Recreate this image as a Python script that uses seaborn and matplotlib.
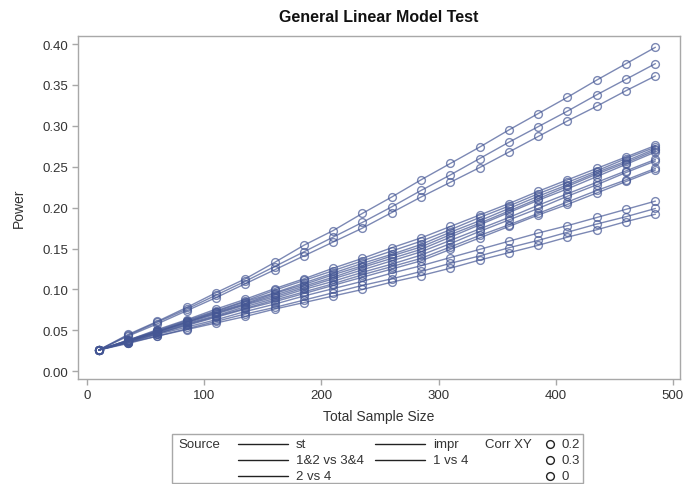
import matplotlib
matplotlib.use("Agg")
import numpy as np
import pandas as pd
import matplotlib.pyplot as plt
import seaborn as sns
from matplotlib.lines import Line2D
from matplotlib.patches import Rectangle
from matplotlib.ticker import FormatStrFormatter

# Total sample sizes evaluated
sample_size = [10, 35, 60, 85, 110, 135, 160, 185, 210, 235,
               260, 285, 310, 335, 360, 385, 410, 435, 460, 485]

# Power curves, one list per (source, correlation) combination
pw_1v4_02 = [0.026, 0.045, 0.061, 0.078, 0.096, 0.113, 0.133, 0.154, 0.172, 0.193,
             0.213, 0.234, 0.254, 0.274, 0.295, 0.315, 0.335, 0.356, 0.376, 0.396]
pw_1v4_03 = [0.026, 0.044, 0.060, 0.076, 0.093, 0.110, 0.128, 0.146, 0.164, 0.182,
             0.201, 0.221, 0.240, 0.260, 0.280, 0.299, 0.318, 0.338, 0.357, 0.376]
pw_1v4_00 = [0.026, 0.043, 0.058, 0.074, 0.090, 0.107, 0.124, 0.141, 0.158, 0.175,
             0.194, 0.213, 0.231, 0.249, 0.268, 0.287, 0.306, 0.324, 0.343, 0.361]

pw_st_02 = [0.026, 0.038, 0.051, 0.063, 0.076, 0.088, 0.101, 0.113, 0.126, 0.138,
            0.151, 0.163, 0.177, 0.191, 0.205, 0.220, 0.234, 0.248, 0.262, 0.276]
pw_st_03 = [0.026, 0.038, 0.050, 0.062, 0.074, 0.086, 0.099, 0.111, 0.123, 0.135,
            0.147, 0.159, 0.173, 0.188, 0.202, 0.217, 0.231, 0.245, 0.260, 0.274]
pw_st_00 = [0.026, 0.038, 0.049, 0.061, 0.073, 0.085, 0.096, 0.108, 0.120, 0.132,
            0.143, 0.155, 0.170, 0.184, 0.199, 0.214, 0.228, 0.243, 0.257, 0.272]

pw_12v34_02 = [0.026, 0.037, 0.049, 0.060, 0.072, 0.083, 0.095, 0.106, 0.118, 0.129,
               0.141, 0.152, 0.167, 0.181, 0.196, 0.211, 0.226, 0.241, 0.255, 0.270]
pw_12v34_03 = [0.026, 0.037, 0.048, 0.060, 0.071, 0.082, 0.093, 0.104, 0.115, 0.127,
               0.138, 0.149, 0.164, 0.179, 0.194, 0.209, 0.223, 0.238, 0.253, 0.268]
pw_12v34_00 = [0.026, 0.037, 0.048, 0.059, 0.070, 0.081, 0.091, 0.102, 0.113, 0.124,
               0.135, 0.146, 0.160, 0.174, 0.188, 0.203, 0.217, 0.231, 0.245, 0.259]

pw_impr_02 = [0.026, 0.037, 0.047, 0.058, 0.068, 0.079, 0.089, 0.100, 0.110, 0.121,
              0.131, 0.142, 0.156, 0.171, 0.185, 0.199, 0.214, 0.228, 0.243, 0.257]
pw_impr_03 = [0.026, 0.036, 0.046, 0.057, 0.067, 0.077, 0.087, 0.097, 0.107, 0.118,
              0.128, 0.138, 0.152, 0.166, 0.179, 0.193, 0.207, 0.221, 0.234, 0.248]
pw_impr_00 = [0.026, 0.036, 0.046, 0.056, 0.066, 0.076, 0.085, 0.095, 0.105, 0.115,
              0.125, 0.135, 0.149, 0.163, 0.177, 0.191, 0.204, 0.218, 0.232, 0.246]

pw_2v4_02 = [0.026, 0.035, 0.045, 0.054, 0.063, 0.073, 0.082, 0.092, 0.101, 0.110,
             0.120, 0.129, 0.139, 0.149, 0.159, 0.169, 0.178, 0.188, 0.198, 0.208]
pw_2v4_03 = [0.026, 0.035, 0.043, 0.052, 0.061, 0.070, 0.078, 0.087, 0.096, 0.105,
             0.113, 0.122, 0.132, 0.141, 0.151, 0.160, 0.170, 0.180, 0.189, 0.199]
pw_2v4_00 = [0.026, 0.034, 0.043, 0.051, 0.059, 0.067, 0.076, 0.084, 0.092, 0.100,
             0.109, 0.117, 0.126, 0.136, 0.145, 0.154, 0.164, 0.173, 0.183, 0.192]

sources = ["st", "1&2 vs 3&4", "2 vs 4", "impr", "1 vs 4"]
corr_levels = ["0.2", "0.3", "0"]

curves = {
    ("1 vs 4", "0.2"): pw_1v4_02, ("1 vs 4", "0.3"): pw_1v4_03, ("1 vs 4", "0"): pw_1v4_00,
    ("st", "0.2"): pw_st_02, ("st", "0.3"): pw_st_03, ("st", "0"): pw_st_00,
    ("1&2 vs 3&4", "0.2"): pw_12v34_02, ("1&2 vs 3&4", "0.3"): pw_12v34_03,
    ("1&2 vs 3&4", "0"): pw_12v34_00,
    ("impr", "0.2"): pw_impr_02, ("impr", "0.3"): pw_impr_03, ("impr", "0"): pw_impr_00,
    ("2 vs 4", "0.2"): pw_2v4_02, ("2 vs 4", "0.3"): pw_2v4_03, ("2 vs 4", "0"): pw_2v4_00,
}

frames = []
for (src, corr), vals in curves.items():
    frames.append(pd.DataFrame({"N": sample_size, "Power": vals,
                                "Source": src, "CorrXY": corr,
                                "curve": f"{src} | {corr}"}))
df = pd.concat(frames, ignore_index=True)

sns.set_theme(style="white")
plt.rcParams["font.family"] = ["Liberation Sans", "DejaVu Sans"]

W, H = 684, 485
fig = plt.figure(figsize=(W / 100, H / 100), dpi=100)
ax_l, ax_r, ax_t, ax_b = 78, 680, 37, 380
ax = fig.add_axes([ax_l / W, 1 - ax_b / H, (ax_r - ax_l) / W, (ax_b - ax_t) / H])

line_color = "#445694"
sns.lineplot(data=df, x="N", y="Power", units="curve", estimator=None,
             color=line_color, lw=1.0, alpha=0.7, marker="o", markersize=5.6,
             markerfacecolor="none", markeredgecolor=line_color,
             markeredgewidth=1.0, legend=False, ax=ax)

ax.set_xlim(-7.7, 506)
ax.set_ylim(-0.0094, 0.4098)
ax.set_xticks([0, 100, 200, 300, 400, 500])
ax.set_yticks(np.arange(0, 0.401, 0.05))
ax.yaxis.set_major_formatter(FormatStrFormatter("%.2f"))

spine_color = "#a8a8a8"
for sp in ax.spines.values():
    sp.set_color(spine_color)
    sp.set_linewidth(1.0)
ax.tick_params(axis="both", which="major", direction="out", length=4,
               width=1.0, color=spine_color, labelsize=9.5, labelcolor="#333333",
               bottom=True, left=True, pad=3)

ax.set_xlabel("Total Sample Size", fontsize=10, color="#333333", labelpad=6)
ax.set_ylabel("Power", fontsize=10, color="#333333", labelpad=12)
fig.text((ax_l + ax_r) / 2 / W, 1 - 17 / H, "General Linear Model Test",
         ha="center", va="center", fontsize=11.5, fontweight="bold", color="#111111")

# Legend panel drawn in pixel coordinates
lg = fig.add_axes([172 / W, 1 - 484 / H, (584 - 172) / W, (484 - 435) / H])
lg.set_xlim(172, 584)
lg.set_ylim(484, 435)
lg.axis("off")
lg.add_patch(Rectangle((172.5, 435.5), 411, 48.5, fill=False,
                       edgecolor=spine_color, lw=1.0, clip_on=False))
txt_kw = dict(fontsize=9.5, color="#333333", va="center")
rows = [445, 461, 477]
lg.text(178, rows[0], "Source", **txt_kw)
src_slots = [(238, rows[0]), (238, rows[1]), (238, rows[2]),
             (375, rows[0]), (375, rows[1])]
for name, (x0, y0) in zip(sources, src_slots):
    lg.add_line(Line2D([x0, x0 + 50], [y0, y0], color="#222222", lw=1.0))
    lg.text(x0 + 58, y0, name, **txt_kw)
lg.text(485, rows[0], "Corr XY", **txt_kw)
for name, y0 in zip(corr_levels, rows):
    lg.add_line(Line2D([550], [y0], marker="o", markersize=5.6,
                       markerfacecolor="none", markeredgecolor="#222222",
                       markeredgewidth=1.0, lw=0))
    lg.text(562, y0, name, **txt_kw)

fig.savefig("out.png", dpi=100)
